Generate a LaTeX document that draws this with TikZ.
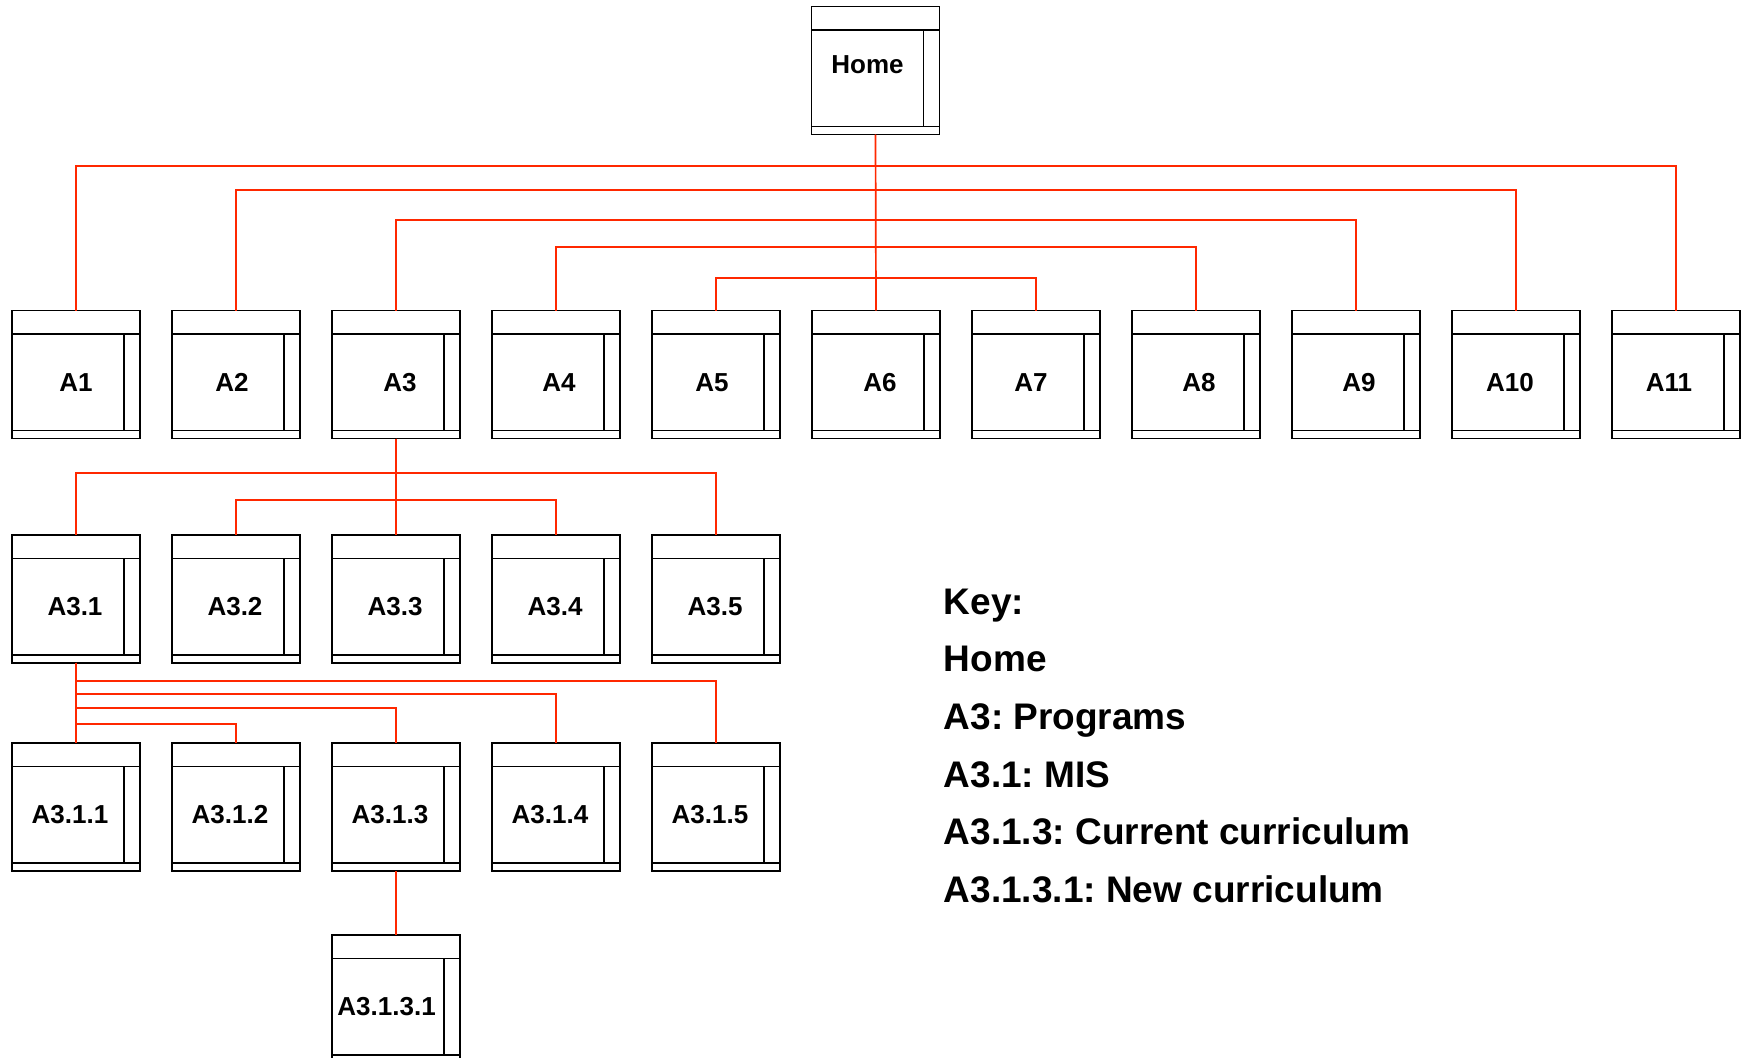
\documentclass[tikz,border=0pt]{standalone}
\usepackage{fontspec}
\setmainfont{Liberation Sans}
\definecolor{lred}{RGB}{255,40,0}
\frenchspacing

\begin{document}
\begin{tikzpicture}[x=0.5pt, y=-0.5pt, line width=0.8pt]
    \tikzstyle{pbox}=[draw, minimum size=64pt, inner sep=0pt, outer sep=0pt,
        path picture={
            \draw ([yshift=-11.8pt]path picture bounding box.north west) -- ([yshift=-11.8pt]path picture bounding box.north east);
            \draw ([yshift=4pt]path picture bounding box.south west) -- ([yshift=4pt]path picture bounding box.south east);
            \draw ([xshift=-8pt,yshift=-11.8pt]path picture bounding box.north east) -- ([xshift=-8pt,yshift=4pt]path picture bounding box.south east);
        }]
    \tikzstyle{blab}=[font=\bfseries\fontsize{13}{15}\selectfont, inner sep=0pt]
    \tikzstyle{keyt}=[font=\bfseries\fontsize{18.5}{22}\selectfont, inner sep=0pt]
    \tikzstyle{rlink}=[draw=lred, line width=0.85pt]

    \useasboundingbox (0,0) rectangle (1744,1058);

    % page boxes
    \node[pbox, label={[blab, xshift=-4pt, yshift=3pt]center:Home}] (home) at (875.5,70.7) {};

    \foreach \n/\dx in {1/0, 2/-4, 3/4, 4/3, 5/-4, 6/4, 7/-5, 8/3, 9/3, 10/-6, 11/-7} {
        \node[pbox, label={[blab, xshift=\dx*0.5pt, yshift=-4pt]center:A\n}] (a\n) at ({76+160*(\n-1)},374.7) {};
    }
    \foreach \n in {1,...,5} {
        \node[pbox, label={[blab, xshift=-0.5pt, yshift=-4pt]center:A3.\n}] (a3\n) at ({76+160*(\n-1)},598.7) {};
        \node[pbox, label={[blab, xshift=-3pt, yshift=-4pt]center:A3.1.\n}] (a31\n) at ({76+160*(\n-1)},807) {};
    }
    \node[pbox, label={[blab, xshift=-4.7pt, yshift=-4pt]center:A3.1.3.1}] (a3131) at (396,999) {};

    % links
    \foreach \n/\y in {1/166, 2/190.3, 3/220, 4/246.7, 5/278.3, 7/278.3, 8/246.7, 9/220, 10/190.3, 11/166} {
        \draw[rlink] (home.south) |- (a\n.north |- 0,\y) -- (a\n.north);
    }
    \draw[rlink] (home.south) -- (a6.north);

    \foreach \n/\y in {1/472.7, 2/499.7, 4/499.7, 5/472.7} {
        \draw[rlink] (a3.south) |- (a3\n.north |- 0,\y) -- (a3\n.north);
    }
    \draw[rlink] (a3.south) -- (a33.north);

    \foreach \n/\y in {2/723.7, 3/707.7, 4/694.3, 5/681} {
        \draw[rlink] (a31.south) |- (a31\n.north |- 0,\y) -- (a31\n.north);
    }
    \draw[rlink] (a31.south) -- (a311.north);
    \draw[rlink] (a313.south) -- (a3131.north);

    % key
    \foreach \t [count=\i] in {Key:, Home, A3: Programs, A3.1: MIS, A3.1.3: Current curriculum, A3.1.3.1: New curriculum} {
        \node[keyt, anchor=base west] (key\i) at (943,{614.3+57.6*(\i-1)}) {\t};
    }
\end{tikzpicture}
\end{document}
